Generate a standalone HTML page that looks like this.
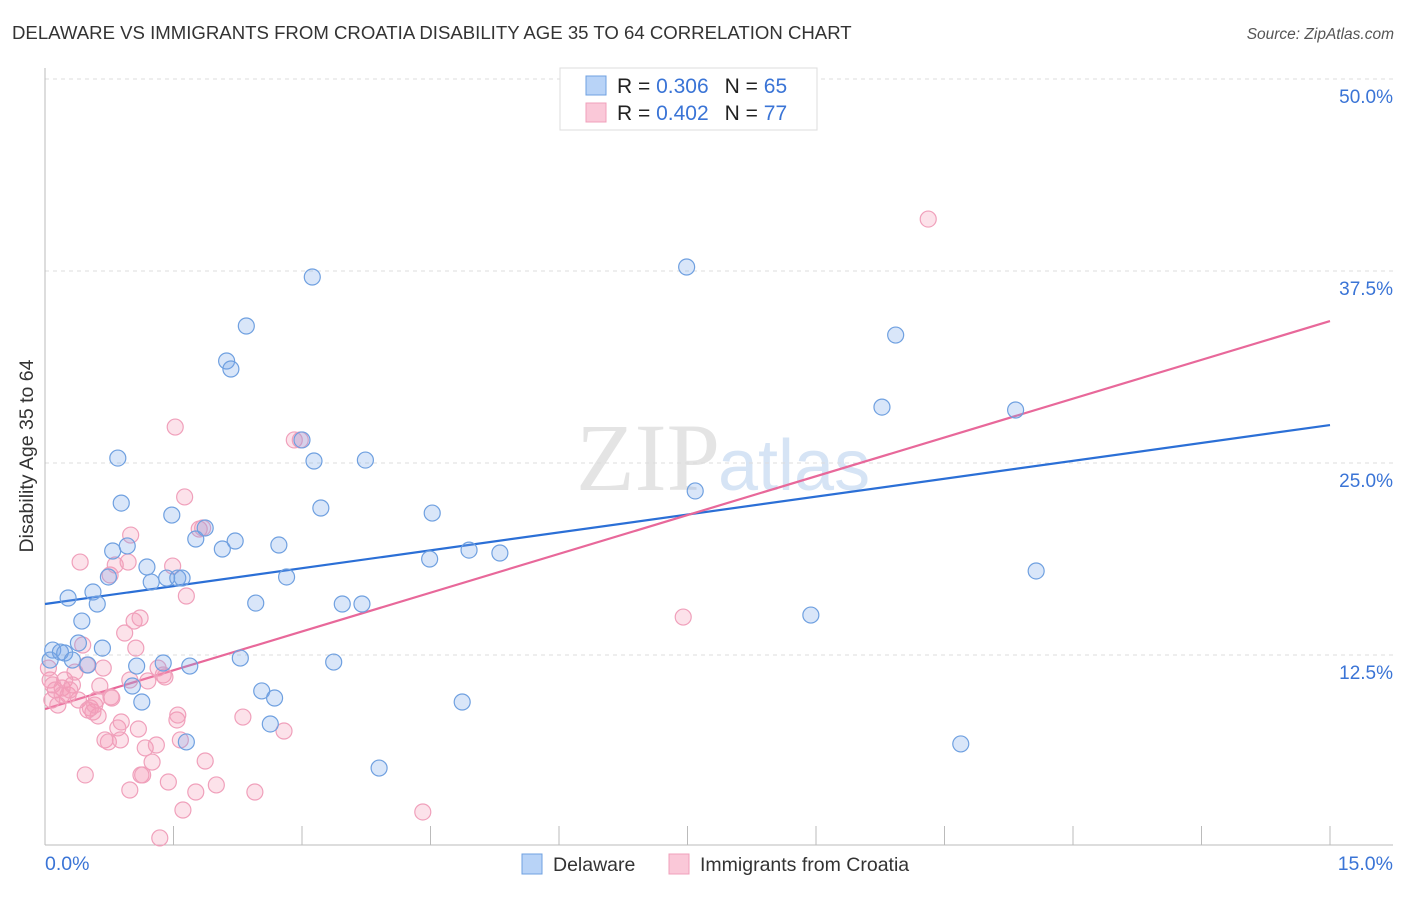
<!DOCTYPE html>
<html><head><meta charset="utf-8"><style>
body{margin:0;background:#fff;font-family:"Liberation Sans",sans-serif;}
</style></head><body>
<svg id="chart" width="1406" height="892" xmlns="http://www.w3.org/2000/svg">
<text x="12" y="39" font-size="18.6" fill="#333">DELAWARE VS IMMIGRANTS FROM CROATIA DISABILITY AGE 35 TO 64 CORRELATION CHART</text>
<text x="1394" y="39" font-size="15.5" fill="#555" font-style="italic" text-anchor="end">Source: ZipAtlas.com</text>
<text x="720" y="490" font-size="96" font-family="Liberation Serif" fill="#e4e4e4" text-anchor="end">ZIP</text>
<text x="718" y="490" font-size="72" fill="#d6e4f5">atlas</text>
<g id="grid"></g><g id="axes"></g><g id="lines"></g><g id="pts"></g>
<text transform="translate(33,456) rotate(-90)" font-size="19.5" fill="#333" text-anchor="middle">Disability Age 35 to 64</text>
<text x="45" y="870" font-size="19.5" fill="#3a74d6">0.0%</text>
<text x="1393" y="870" font-size="19.5" fill="#3a74d6" text-anchor="end">15.0%</text>
<g>
<rect x="560" y="68" width="257" height="62" fill="#fff" stroke="#ddd"/>
<rect x="586" y="76" width="20" height="19" fill="#b8d3f7" stroke="#6fa0e0"/>
<rect x="586" y="103" width="20" height="19" fill="#fac8d8" stroke="#f0a0bb"/>
<text x="617" y="93" font-size="21" fill="#222">R = <tspan fill="#3a74d6">0.306</tspan><tspan dx="16">N = </tspan><tspan fill="#3a74d6">65</tspan></text>
<text x="617" y="120" font-size="21" fill="#222">R = <tspan fill="#3a74d6">0.402</tspan><tspan dx="16">N = </tspan><tspan fill="#3a74d6">77</tspan></text>
</g>
<g>
<rect x="522" y="854" width="20" height="20" fill="#b8d3f7" stroke="#6fa0e0"/>
<text x="553" y="871" font-size="19.5" fill="#333">Delaware</text>
<rect x="669" y="854" width="20" height="20" fill="#fac8d8" stroke="#f0a0bb"/>
<text x="700" y="871" font-size="19.5" fill="#333">Immigrants from Croatia</text>
</g>
</svg>
<script>
const yTicks=[12.5,25,37.5,50];
const yTickLabels=["12.5%","25.0%","37.5%","50.0%"];
const xTicks=[0,1.5,3,4.5,6,7.5,9,10.5,12,13.5,15];
const blueX=[0.09,0.18,0.23,0.27,0.32,0.39,0.43,0.50,0.56,0.61,0.67,0.74,0.79,0.85,0.89,0.96,1.02,1.07,1.13,1.19,1.24,1.38,1.42,1.48,1.55,1.60,1.65,1.69,1.76,1.87,2.07,2.12,2.17,2.22,2.28,2.35,2.46,2.53,2.63,2.68,2.73,2.82,3.00,3.12,3.14,3.22,3.37,3.47,3.70,3.74,3.90,4.49,4.52,4.87,4.95,5.31,7.49,7.59,8.94,9.77,9.93,10.69,11.33,11.57,0.06];
const blueY=[12.82,12.69,12.63,16.21,12.17,13.28,14.71,11.85,16.60,15.82,12.95,17.58,19.27,25.32,22.39,19.60,10.48,11.78,9.44,18.23,17.25,11.98,17.51,21.61,17.51,17.51,6.84,11.78,20.05,20.77,19.40,31.64,31.12,19.92,12.30,33.92,15.88,10.16,8.01,9.70,19.66,17.58,26.50,37.11,25.13,22.07,12.04,15.82,15.82,25.19,5.14,18.75,21.74,9.44,19.33,19.14,37.76,23.18,15.10,28.64,33.33,6.71,28.45,17.97,12.17];
const pinkX=[0.06,0.08,0.12,0.15,0.20,0.23,0.27,0.32,0.35,0.39,0.41,0.44,0.47,0.49,0.53,0.56,0.60,0.62,0.64,0.68,0.70,0.74,0.76,0.77,0.82,0.85,0.89,0.93,0.97,0.99,1.00,1.04,1.06,1.09,1.11,1.12,1.14,1.17,1.20,1.25,1.30,1.32,1.34,1.38,1.40,1.44,1.49,1.52,1.54,1.55,1.58,1.61,1.63,1.65,1.76,1.80,1.84,1.87,2.00,2.31,2.45,2.79,2.91,2.98,4.41,7.45,10.31,0.04,0.09,0.20,0.29,0.50,0.58,0.78,0.88,0.99];
const pinkY=[10.87,9.57,10.22,9.24,10.35,10.87,9.90,10.55,11.39,9.57,18.55,13.15,4.69,11.85,9.05,8.79,9.57,8.53,10.48,11.65,6.97,6.84,17.71,9.77,18.36,7.75,8.14,13.93,18.55,3.71,20.31,14.71,12.95,7.68,14.91,4.69,4.69,6.45,10.81,5.53,6.64,11.65,0.59,11.20,11.07,4.23,18.29,27.34,8.27,8.59,6.97,2.41,22.79,16.34,3.58,20.70,20.77,5.60,4.04,8.46,3.58,7.55,26.50,26.50,2.28,14.97,40.88,11.65,10.55,9.90,10.22,8.92,9.24,9.70,6.97,10.87];
const blueTrend=[15.82,27.47];
const pinkTrend=[8.98,34.24];
const NS="http://www.w3.org/2000/svg";
const sx=v=>45+v/15*1285;
const sy=v=>847-v/12.5*192;
function mk(tag,attrs,parent){const e=document.createElementNS(NS,tag);for(const k in attrs)e.setAttribute(k,attrs[k]);document.getElementById(parent).appendChild(e);return e;}
yTicks.forEach((t,i)=>{
 const g=mk('line',{x1:45,x2:1393,y1:sy(t),y2:sy(t),stroke:'#ddd','stroke-dasharray':'4,4'},'grid');
 
 
 const l=mk('text',{x:1393,y:sy(t)+24,'font-size':19,fill:'#3a74d6','text-anchor':'end'},'grid');
 l.textContent=yTickLabels[i];
 
 
});
const ax=mk('line',{x1:45,x2:1393,y1:845,y2:845,stroke:'#bbb'},'axes');


const ay=mk('line',{x1:45,x2:45,y1:68,y2:845,stroke:'#bbb'},'axes');


xTicks.forEach(t=>{
 const k=mk('line',{x1:sx(t),x2:sx(t),y1:826,y2:845,stroke:'#bbb'},'axes');
 
 
});
function pts(X,Y,fill,stroke,name){
 X.forEach((x,i)=>{
  const c=mk('circle',{cx:sx(x),cy:sy(Y[i]),r:8,fill:fill,stroke:stroke,'stroke-width':1.2},'pts');
  
  
 });
}
pts(pinkX,pinkY,'rgba(245,150,180,0.28)','#f0a0bb','croatia-point');
pts(blueX,blueY,'rgba(120,165,235,0.28)','#6fa0e0','delaware-point');
const bl=mk('line',{x1:sx(0),x2:sx(15),y1:sy(blueTrend[0]),y2:sy(blueTrend[1]),stroke:'#2b6fd6','stroke-width':2.2},'lines');


const pl=mk('line',{x1:sx(0),x2:sx(15),y1:sy(pinkTrend[0]),y2:sy(pinkTrend[1]),stroke:'#e8689a','stroke-width':2.2},'lines');


</script>
</body></html>
